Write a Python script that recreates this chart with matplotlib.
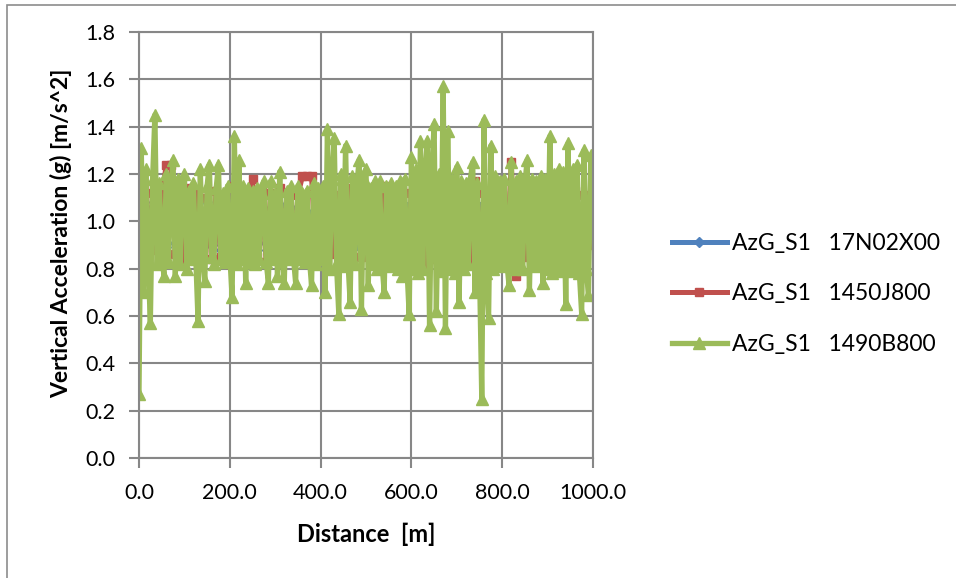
import numpy as np
import matplotlib
matplotlib.use("Agg")
import matplotlib.pyplot as plt
from matplotlib.patches import Rectangle

plt.rcParams['font.family'] = ['Lato', 'DejaVu Sans']

# sample positions along the track [m]
dist_fine = np.arange(0, 1001, 5)
dist_coarse = np.arange(0, 1001, 10)

# vertical acceleration, one list per sensor run
acc_1490b800 = [
    0.27, 1.31, 0.70, 1.22, 0.84, 0.57, 1.18, 1.45, 0.82, 1.16,
    0.86, 0.77, 1.20, 0.83, 1.14, 1.26, 0.77, 1.18, 0.82, 1.15,
    1.20, 0.80, 1.13, 0.84, 1.16, 0.85, 0.58, 1.22, 0.86, 0.75,
    1.15, 1.24, 0.85, 0.82, 1.14, 1.24, 0.84, 1.12, 0.83, 1.15,
    0.86, 0.68, 1.36, 0.82, 1.26, 0.84, 1.15, 0.74, 1.14, 0.83,
    1.13, 0.82, 1.14, 0.84, 1.12, 1.17, 0.83, 0.74, 1.17, 0.84,
    1.12, 0.77, 1.21, 0.85, 0.74, 1.13, 0.84, 1.15, 0.85, 0.74,
    1.15, 0.84, 1.12, 0.83, 1.13, 0.85, 0.73, 1.16, 0.82, 1.14,
    0.84, 1.15, 0.70, 1.39, 0.80, 1.18, 1.35, 0.82, 0.61, 1.20,
    0.81, 1.32, 0.84, 0.66, 1.19, 0.82, 1.16, 1.26, 0.63, 1.18,
    1.22, 0.73, 1.14, 0.82, 1.17, 0.80, 1.17, 0.83, 0.70, 1.15,
    0.81, 1.16, 0.82, 1.15, 0.80, 1.17, 0.77, 1.18, 0.81, 0.61,
    1.27, 0.80, 1.22, 0.78, 1.34, 0.80, 1.20, 1.34, 0.56, 1.21,
    1.41, 0.62, 1.20, 0.79, 1.57, 0.55, 1.38, 0.80, 1.18, 0.78,
    1.23, 0.66, 1.17, 0.80, 1.16, 0.82, 1.18, 1.25, 0.70, 1.16,
    0.80, 0.25, 1.43, 0.78, 0.59, 1.32, 0.80, 1.19, 0.82, 1.17,
    0.81, 1.18, 0.83, 0.73, 1.25, 0.80, 1.17, 0.82, 1.19, 0.80,
    1.16, 1.26, 0.71, 1.18, 0.81, 1.17, 0.82, 1.19, 0.74, 1.18,
    0.80, 1.36, 0.78, 1.20, 0.80, 1.22, 0.79, 1.21, 0.65, 1.33,
    0.79, 1.22, 0.80, 1.24, 0.78, 0.61, 1.30, 0.80, 0.69, 1.28,
    1.08,
]

acc_1450j800 = [
    0.88, 1.15, 0.84, 1.12, 0.88, 1.10, 1.24, 1.24, 0.86, 1.12,
    0.82, 1.14, 0.85, 1.12, 0.86, 1.10, 0.84, 1.13, 0.85, 1.11,
    0.82, 1.15, 0.84, 1.12, 0.86, 1.18, 0.85, 1.13, 0.83, 1.12,
    0.86, 1.14, 0.85, 1.12, 0.84, 1.11, 1.19, 1.19, 1.19, 0.84,
    1.12, 0.85, 1.13, 0.86, 1.11, 0.84, 1.14, 0.86, 1.12, 0.85,
    1.13, 0.84, 1.12, 0.86, 1.15, 0.85, 1.11, 0.84, 1.13, 0.86,
    1.12, 0.85, 1.14, 0.82, 1.13, 0.84, 1.12, 0.86, 1.11, 0.85,
    1.14, 0.86, 1.12, 0.84, 1.17, 0.85, 1.12, 0.83, 1.13, 0.86,
    1.11, 0.84, 1.25, 0.77, 1.14, 0.85, 1.12, 0.84, 1.13, 0.86,
    1.12, 0.85, 1.14, 0.84, 1.12, 0.86, 1.13, 0.85, 1.11, 0.90,
    0.98,
]

acc_17n02x00 = [
    0.84, 1.08, 0.88, 1.06, 0.90, 1.05, 0.89, 1.07, 0.91, 1.04,
    0.88, 1.06, 0.90, 1.05, 0.89, 1.08, 0.90, 1.04, 0.88, 1.06,
    0.91, 1.05, 0.89, 1.07, 0.90, 1.04, 0.88, 1.06, 0.91, 1.05,
    0.89, 1.07, 0.90, 1.05, 0.88, 1.06, 0.90, 1.04, 0.89, 1.07,
    0.91, 1.05, 0.88, 1.06, 0.90, 1.04, 0.89, 1.08, 0.90, 1.05,
    0.88, 1.06, 0.91, 1.04, 0.89, 1.07, 0.90, 1.05, 0.88, 1.06,
    0.90, 1.04, 0.89, 1.07, 0.91, 1.05, 0.88, 1.06, 0.90, 1.04,
    0.89, 1.08, 0.90, 1.05, 0.88, 1.06, 0.91, 1.04, 0.89, 1.07,
    0.90, 1.05, 0.88, 1.06, 0.90, 1.04, 0.89, 1.07, 0.91, 1.05,
    0.88, 1.06, 0.90, 1.04, 0.89, 1.07, 0.90, 1.05, 0.92, 1.03,
    1.06,
]

labels = ["AzG_S1   17N02X00", "AzG_S1   1450J800", "AzG_S1   1490B800"]
colors = ["#4F81BD", "#C0504D", "#9BBB59"]

fig = plt.figure(figsize=(9.56, 5.78), dpi=100)
# chart frame
fig.patches.append(Rectangle((7 / 956, -0.5), 2.0, 1.5 - 5 / 578,
                             transform=fig.transFigure, fill=False,
                             edgecolor="#8c8c8c", linewidth=1.2))

ax = fig.add_axes([139 / 956, 1 - 458 / 578, 454 / 956, 426 / 578])

ax.plot(dist_coarse, acc_17n02x00, color=colors[0], lw=3.6, marker="D",
        ms=5, label=labels[0])
ax.plot(dist_coarse, acc_1450j800, color=colors[1], lw=3.6, marker="s",
        ms=6, label=labels[1])
ax.plot(dist_fine, acc_1490b800, color=colors[2], lw=3.8, marker="^",
        ms=8, label=labels[2])

ax.set_xlim(0, 1000)
ax.set_ylim(0, 1.8)
ax.set_xticks(np.arange(0, 1001, 200))
ax.set_yticks(np.arange(0, 1.81, 0.2))
ax.xaxis.set_major_formatter(matplotlib.ticker.FormatStrFormatter("%.1f"))
ax.yaxis.set_major_formatter(matplotlib.ticker.FormatStrFormatter("%.1f"))
ax.grid(True, color="#878787", linewidth=1.5)
ax.set_axisbelow(True)
for sp in ax.spines.values():
    sp.set_color("#878787")
    sp.set_linewidth(1.5)
ax.tick_params(axis="both", direction="out", length=7, width=1.5,
               color="#878787", labelsize=15.5)
ax.tick_params(axis="x", pad=11)
ax.tick_params(axis="y", pad=10)

ax.set_xlabel("Distance  [m]", fontsize=17, fontweight="bold", labelpad=14)
ax.set_ylabel("Vertical Acceleration (g) [m/s^2]", fontsize=16.5,
              fontweight="bold")
ax.yaxis.set_label_coords(-0.147, 0.528)

ax.legend(loc="center left", bbox_to_anchor=(1.128, 0.385), frameon=False,
          fontsize=16.5, handlelength=2.4, labelspacing=1.27, handletextpad=0.25)

fig.savefig("out.png", dpi=100)
